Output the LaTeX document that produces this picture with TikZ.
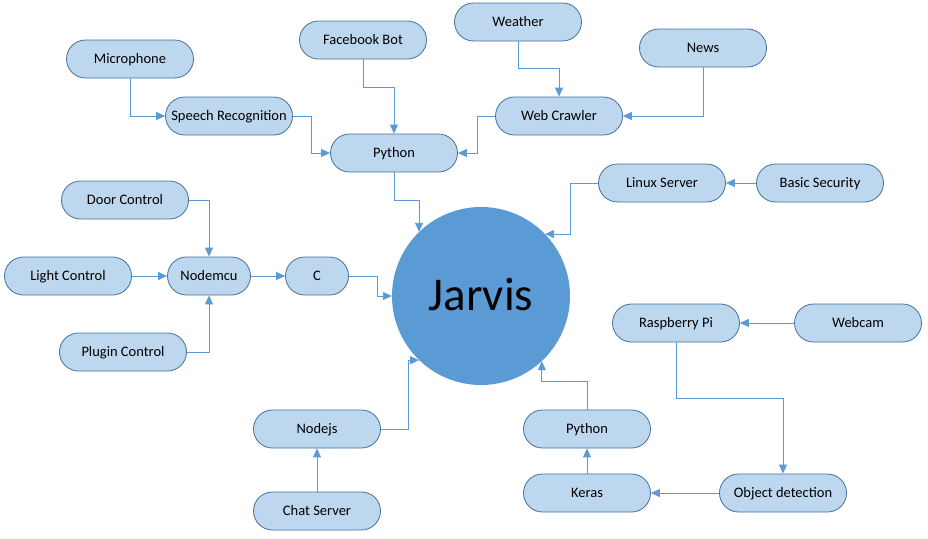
\documentclass[tikz,border=0pt]{standalone}
\usepackage{fontspec}
\setmainfont{Carlito}
\usetikzlibrary{arrows.meta}
\definecolor{boxfill}{HTML}{BDD7EE}
\definecolor{boxline}{HTML}{41719C}
\definecolor{arrowc}{HTML}{5B9BD5}
\definecolor{hubfill}{HTML}{5B9BD5}
\begin{document}
\begin{tikzpicture}[x=1pt,y=-1pt,
  box/.style={draw=boxline, fill=boxfill, rounded corners=19pt, minimum width=127pt,
    minimum height=38pt, inner sep=0pt, line width=0.8pt, text height=11pt, text depth=2.5pt,
    font=\fontsize{14.5}{17}\selectfont},
  conn/.style={draw=arrowc, line width=0.9pt, -{Triangle[length=9pt,width=8pt]}},
  hub/.style={circle, fill=hubfill, minimum size=178pt, inner sep=0pt, text height=32pt, text depth=4pt,
    font=\fontsize{47}{50}\selectfont}]
\useasboundingbox (0,0) rectangle (928,538);
% nodes
\node[hub] (jarvis) at (481,296) {Jarvis};
\node[box] (mic) at (130,59) {Microphone};
\node[box] (speech) at (229,116) {Speech Recognition};
\node[box] (fb) at (363,40) {Facebook Bot};
\node[box] (py1) at (394,153) {Python};
\node[box] (weather) at (518,22) {Weather};
\node[box] (news) at (703,48) {News};
\node[box] (web) at (559,116) {Web Crawler};
\node[box] (linux) at (662,183) {Linux Server};
\node[box] (sec) at (820,183) {Basic Security};
\node[box] (door) at (125,200) {Door Control};
\node[box] (light) at (68,276) {Light Control};
\node[box, minimum width=83pt] (nodemcu) at (209,276) {Nodemcu};
\node[box, minimum width=63pt] (c) at (317,276) {C};
\node[box] (plug) at (123,352) {Plugin Control};
\node[box] (nodejs) at (317,429) {Nodejs};
\node[box] (chat) at (317,511) {Chat Server};
\node[box] (py2) at (587,429) {Python};
\node[box] (keras) at (587,493) {Keras};
\node[box] (obj) at (783,493) {Object detection};
\node[box] (rpi) at (676,323) {Raspberry Pi};
\node[box] (webcam) at (858,323) {Webcam};
% connectors
\draw[conn] (mic.south) |- (speech.west);
\draw[conn] (speech.east) -- ++(19,0) |- (py1.west);
\draw[conn] (fb.south) -- ++(0,28) -| (py1.north);
\draw[conn] (weather.south) -- ++(0,27) -| (web.north);
\draw[conn] (news.south) |- (web.east);
\draw[conn] (web.west) -- ++(-18,0) |- (py1.east);
\draw[conn] (sec.west) -- (linux.east);
\draw[conn] (linux.west) -- ++(-28,0) |- (jarvis.44);
\draw[conn] (py1.south) -- ++(0,28) -| (jarvis.134);
\draw[conn] (door.east) -| (nodemcu.north);
\draw[conn] (light.east) -- (nodemcu.west);
\draw[conn] (plug.east) -| (nodemcu.south);
\draw[conn] (nodemcu.east) -- (c.west);
\draw[conn] (c.east) -- ++(29,0) |- (jarvis.west);
\draw[conn] (nodejs.east) -- ++(28,0) |- (jarvis.226);
\draw[conn] (chat.north) -- (nodejs.south);
\draw[conn] (py2.north) -- ++(0,-28) -| (jarvis.313);
\draw[conn] (keras.north) -- (py2.south);
\draw[conn] (obj.west) -- (keras.east);
\draw[conn] (webcam.west) -- (rpi.east);
\draw[conn] (rpi.south) -- ++(0,56) -| (obj.north);
\end{tikzpicture}
\end{document}
